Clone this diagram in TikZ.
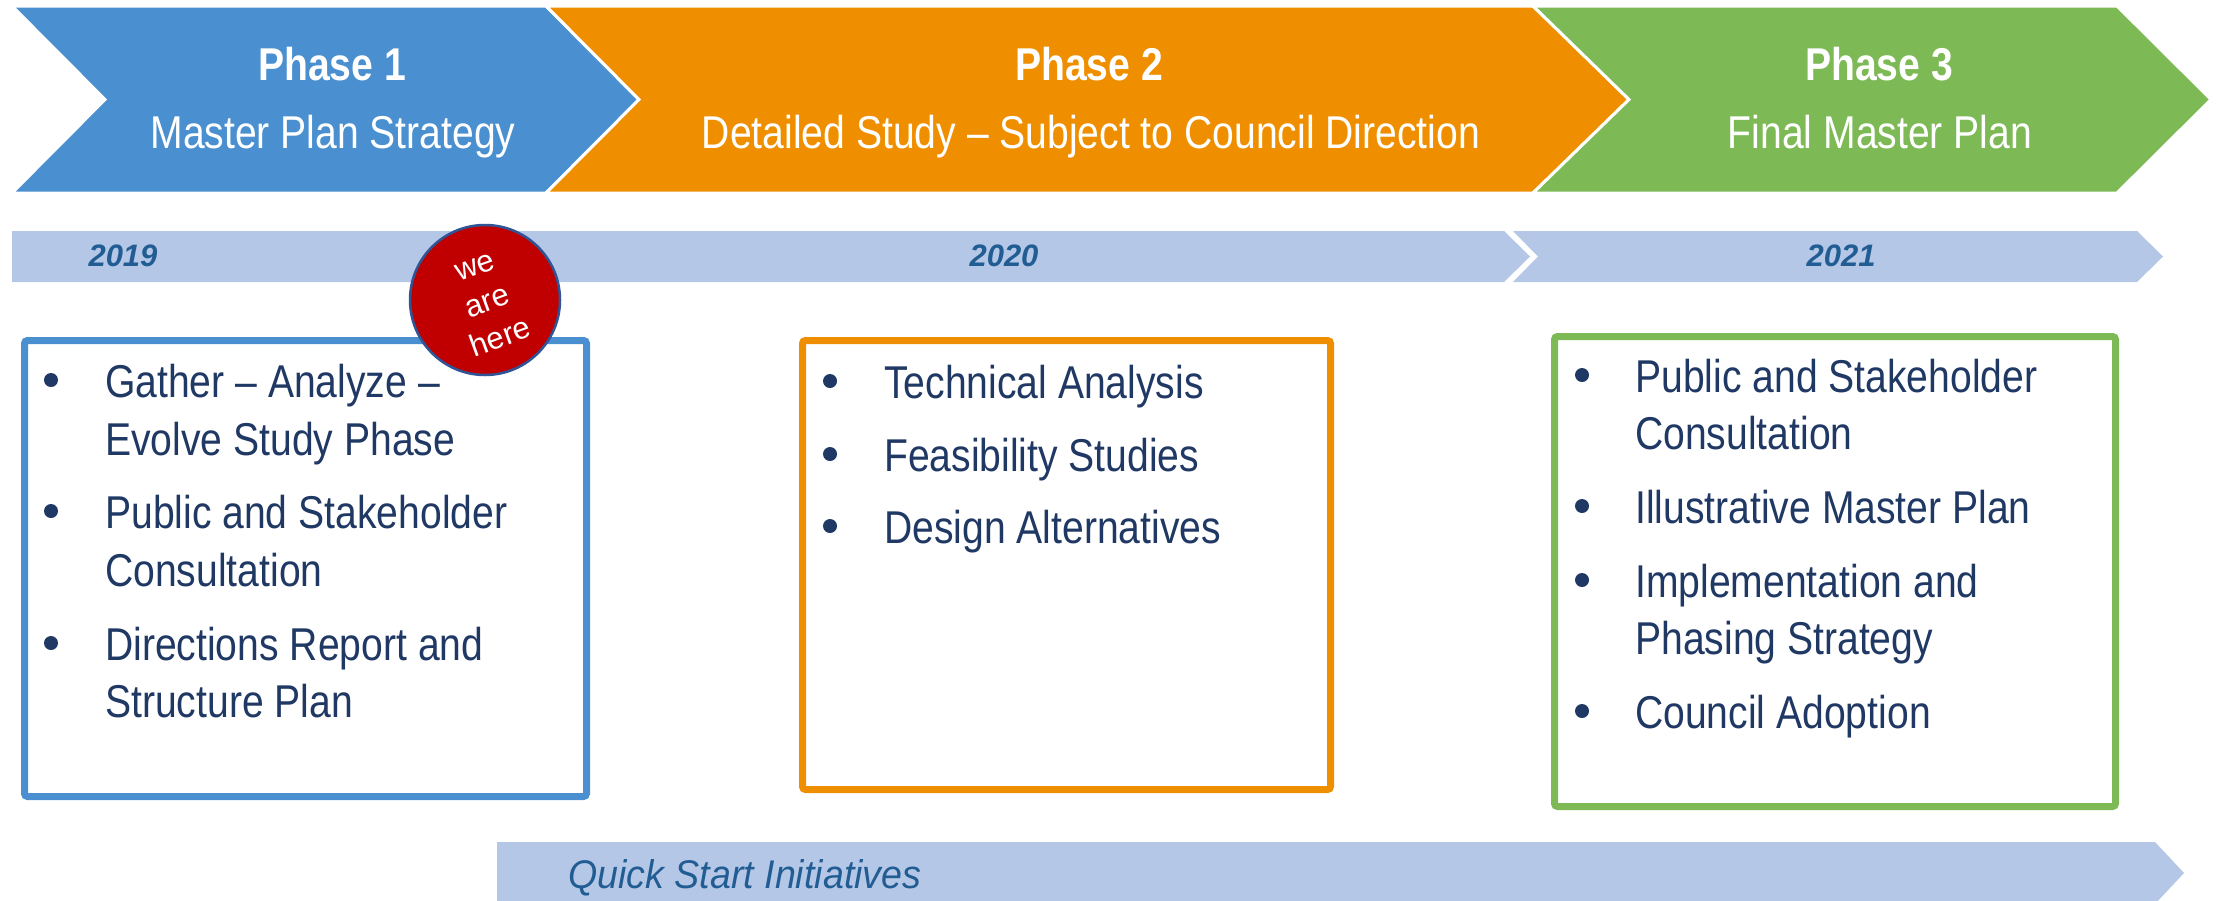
\documentclass[tikz,border=0pt]{standalone}
\usepackage{fontspec}
\setmainfont{Liberation Sans}[FakeStretch=0.85]
\newfontfamily\plainfont{Liberation Sans}
\newfontfamily\qsfont{Liberation Sans}[FakeStretch=0.94]
\definecolor{cblue}{HTML}{4A8FCF}
\definecolor{corange}{HTML}{EF8F00}
\definecolor{cgreen}{HTML}{7DB955}
\definecolor{barblue}{HTML}{B4C7E7}
\definecolor{navy}{HTML}{203864}
\definecolor{yrblue}{HTML}{215D92}
\definecolor{herered}{HTML}{C00000}
\definecolor{hereedge}{HTML}{2F5597}
\begin{document}
\begin{tikzpicture}[x=1pt,y=-1pt,
  chev/.style={draw=white, line width=3pt, line join=miter},
  yr/.style={font=\plainfont\bfseries\itshape\fontsize{31}{36}\selectfont, text=yrblue, inner sep=0pt, anchor=base},
  ph/.style={font=\bfseries\fontsize{46}{55}\selectfont, text=white, inner sep=0pt, anchor=base},
  sub/.style={font=\fontsize{46}{55}\selectfont, text=white, inner sep=0pt, anchor=base},
  itm/.style={font=\fontsize{46}{58}\selectfont, text=navy, inner sep=0pt, anchor=base west},
  bul/.style={circle, fill=navy, inner sep=0pt, minimum size=14pt},
  box/.style={line width=7pt, rounded corners=3pt},
  here/.style={circle, fill=herered, draw=hereedge, line width=2.5pt, minimum size=150pt, inner sep=0pt},
  heretxt/.style={font=\plainfont\fontsize{31}{38}\selectfont, text=white, align=center, rotate=20, inner sep=0pt},
  qs/.style={font=\qsfont\itshape\fontsize{40}{48}\selectfont, text=yrblue, inner sep=0pt, anchor=base west}
]
\useasboundingbox (0,0) rectangle (2216,900);

% phase chevrons
\path[fill=cblue, chev] (12,6) -- (546,6) -- (639,99.5) -- (546,193) -- (12,193) -- (105,99.5) -- cycle;
\path[fill=corange, chev] (546,6) -- (1533,6) -- (1629,99.5) -- (1533,193) -- (546,193) -- (639,99.5) -- cycle;
\path[fill=cgreen, chev] (1533,6) -- (2117,6) -- (2211,99.5) -- (2117,193) -- (1533,193) -- (1629,99.5) -- cycle;

\node[ph] (p1) at (332,80) {Phase 1};
\node[sub] (s1) at (333,148) {Master Plan Strategy};
\node[ph] (p2) at (1089,80) {Phase 2};
\node[sub] (s2) at (1091,148) {Detailed Study – Subject to Council Direction};
\node[ph] (p3) at (1879,80) {Phase 3};
\node[sub] (s3) at (1880,148) {Final Master Plan};

% year bar
\fill[barblue] (12,231) -- (1504,231) -- (1530,256.5) -- (1504,282) -- (12,282) -- cycle;
\fill[barblue] (1513,231) -- (2137,231) -- (2163,256.5) -- (2137,282) -- (1513,282) -- (1538,256.5) -- cycle;
\node[yr] (y19) at (123,266) {2019};
\node[yr] (y20) at (1004,266) {2020};
\node[yr] (y21) at (1841,266) {2021};

% boxes
\draw[box, draw=cblue] (24.5,340.5) rectangle (586.5,796.5);
\draw[box, draw=corange] (802.5,340.5) rectangle (1330.5,789.5);
\draw[box, draw=cgreen] (1554.5,336.5) rectangle (2115.5,806.5);

% box 1 items
\node[bul] (b1a) at (51,380) {};
\node[itm] (t1a) at (105,397) {Gather – Analyze –};
\node[itm] (t1b) at (105,455) {Evolve Study Phase};
\node[bul] (b1b) at (51,511) {};
\node[itm] (t1c) at (105,528) {Public and Stakeholder};
\node[itm] (t1d) at (105,586) {Consultation};
\node[bul] (b1c) at (51,643) {};
\node[itm] (t1e) at (105,660) {Directions Report and};
\node[itm] (t1f) at (105,717) {Structure Plan};

% box 2 items
\node[bul] (b2a) at (830,381) {};
\node[itm] (t2a) at (884,398) {Technical Analysis};
\node[bul] (b2b) at (830,454) {};
\node[itm] (t2b) at (884,471) {Feasibility Studies};
\node[bul] (b2c) at (830,526) {};
\node[itm] (t2c) at (884,543) {Design Alternatives};

% box 3 items
\node[bul] (b3a) at (1582,375) {};
\node[itm] (t3a) at (1635,392) {Public and Stakeholder};
\node[itm] (t3b) at (1635,449) {Consultation};
\node[bul] (b3b) at (1582,506) {};
\node[itm] (t3c) at (1635,523) {Illustrative Master Plan};
\node[bul] (b3c) at (1582,580) {};
\node[itm] (t3d) at (1635,597) {Implementation and};
\node[itm] (t3e) at (1635,654) {Phasing Strategy};
\node[bul] (b3d) at (1582,711) {};
\node[itm] (t3f) at (1635,728) {Council Adoption};

% we are here
\node[here] (hc) at (485,300) {};
\node[heretxt] (ht) at (488,303) {we\\are\\here};

% quick start bar
\fill[barblue] (497,842) -- (2155,842) -- (2184,873) -- (2155,904) -- (497,904) -- cycle;
\node[qs] (qst) at (568,888) {Quick Start Initiatives};
\end{tikzpicture}
\end{document}
